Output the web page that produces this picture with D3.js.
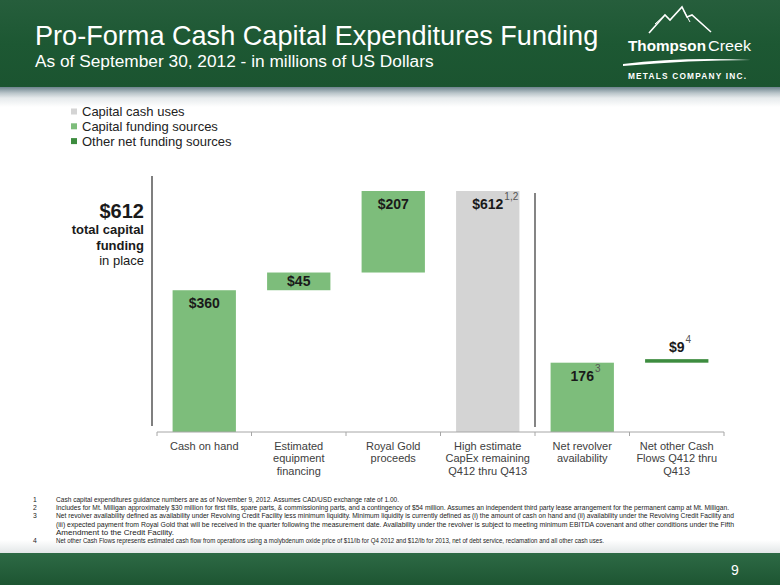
<!DOCTYPE html>
<html><head><meta charset="utf-8">
<script src="https://cdn.jsdelivr.net/npm/d3@7"></script>
<style>html,body{margin:0;padding:0;background:#fff;}svg{display:block;font-family:Arial,"Liberation Sans",sans-serif;}</style>
</head><body>
<script>
// ---- data ----
const categories = ["Cash on hand", "Estimated equipment financing", "Royal Gold proceeds", "High estimate CapEx remaining Q412 thru Q413", "Net revolver availability", "Net other Cash Flows Q412 thru Q413"];
const categoryLines = [["Cash on hand"], ["Estimated", "equipment", "financing"], ["Royal Gold", "proceeds"], ["High estimate", "CapEx remaining", "Q412 thru Q413"], ["Net revolver", "availability"], ["Net other Cash", "Flows Q412 thru", "Q413"]];
const barStarts = [0, 360, 405, 0, 0, 176];
const barValues = [360, 45, 207, 612, 176, 9];
const barTypes = ["funding", "funding", "funding", "use", "funding", "other"];
const valueLabels = ["$360", "$45", "$207", "$612", "176", "$9"];
const superscripts = ["", "", "", "1,2", "3", "4"];
const legendLabels = ["Capital cash uses", "Capital funding sources", "Other net funding sources"];
const legendTypes = ["use", "funding", "other"];
const footnoteNums = ["1", "2", "3", "", "", "4"];
const footnoteLines = [
  "Cash capital expenditures guidance numbers are as of  November  9, 2012.  Assumes CAD/USD exchange rate of 1.00.",
  "Includes for Mt. Milligan approximately $30 million for first fills, spare parts, & commissioning parts, and a contingency of $54 million.  Assumes an independent third party lease arrangement for the permanent camp at Mt. Milligan.",
  "Net revolver availability defined as availability under Revolving Credit Facility less minimum liquidity.  Minimum liquidity is currently defined as (i) the amount of cash on hand and (ii) availability under the Revolving Credit Facility and",
  "(iii) expected payment from Royal Gold that will be received in the quarter following the measurement date.  Availability under the revolver is subject to meeting minimum EBITDA covenant and other conditions under the Fifth",
  "Amendment to the Credit Facility.",
  "Net other Cash Flows represents estimated cash flow from operations using a molybdenum oxide price of $11/lb for Q4 2012 and $12/lb for 2013, net of debt service, reclamation and all other cash uses."
];
const footnoteWidths = [343, 673, 678, 678, 118, 548];
const title = "Pro-Forma Cash Capital Expenditures Funding";
const subtitle = "As of September 30, 2012 - in millions of US Dollars";
const totalLabel = "$612";
const totalLines = ["total capital", "funding", "in place"];

// ---- drawing ----
const W = 780, H = 585;
const colors = {use: "#d4d4d4", funding: "#7dbd7b", other: "#3d8c3f"};
const svg = d3.select("body").append("svg").attr("width", W).attr("height", H);
const defs = svg.append("defs");
const hg = defs.append("linearGradient").attr("id", "hg").attr("x1", 0).attr("y1", 0).attr("x2", 0).attr("y2", 1);
hg.append("stop").attr("offset", 0).attr("stop-color", "#265e3c");
hg.append("stop").attr("offset", 0.5).attr("stop-color", "#1d5833");
hg.append("stop").attr("offset", 1).attr("stop-color", "#1b5430");
const sg = defs.append("linearGradient").attr("id", "sg").attr("x1", 0).attr("y1", 0).attr("x2", 0).attr("y2", 1);
sg.append("stop").attr("offset", 0).attr("stop-color", "#6e848e");
sg.append("stop").attr("offset", 0.3).attr("stop-color", "#b9c4c9");
sg.append("stop").attr("offset", 0.55).attr("stop-color", "#e6eaec");
sg.append("stop").attr("offset", 1).attr("stop-color", "#ffffff");
const bg = defs.append("linearGradient").attr("id", "bg").attr("x1", 0).attr("y1", 0).attr("x2", 0).attr("y2", 1);
bg.append("stop").attr("offset", 0).attr("stop-color", "#ffffff");
bg.append("stop").attr("offset", 1).attr("stop-color", "#e3e7e8");
const fg = defs.append("linearGradient").attr("id", "fg").attr("x1", 0).attr("y1", 0).attr("x2", 0).attr("y2", 1);
fg.append("stop").attr("offset", 0).attr("stop-color", "#2d6a45");
fg.append("stop").attr("offset", 1).attr("stop-color", "#1d5532");

// header
svg.append("rect").attr("x", 0).attr("y", 0).attr("width", W).attr("height", 87).attr("fill", "url(#hg)");
svg.append("rect").attr("x", 0).attr("y", 87).attr("width", W).attr("height", 20).attr("fill", "url(#sg)");
svg.append("text").attr("x", 35).attr("y", 45).attr("fill", "#fff").attr("font-size", 27.1).text(title);
svg.append("text").attr("x", 35).attr("y", 67).attr("fill", "#fff").attr("font-size", 17.3).text(subtitle);

// logo
const logo = svg.append("g");
logo.append("path").attr("d", "M649,33 L665,15 L670,20 L682,7 L687,17 L692,15 L711,32")
  .attr("fill", "none").attr("stroke", "#fff").attr("stroke-width", 1.6).attr("stroke-linejoin", "miter");
logo.append("path").attr("d", "M655,24 L665,15 M684,11 L690,22")
  .attr("fill", "none").attr("stroke", "#fff").attr("stroke-width", 1);
logo.append("text").attr("x", 628).attr("y", 51).attr("fill", "#fff").attr("font-size", 15.5).attr("font-weight", "bold")
  .attr("textLength", 78).attr("lengthAdjust", "spacingAndGlyphs").text("Thompson");
logo.append("text").attr("x", 708).attr("y", 51).attr("fill", "#fff").attr("font-size", 15.5)
  .attr("textLength", 43).attr("lengthAdjust", "spacingAndGlyphs").text("Creek");
logo.append("path").attr("d", "M623,64 Q680,57 751,60 Q690,60 623,66 Z").attr("fill", "#fff");
logo.append("text").attr("x", 628).attr("y", 79).attr("fill", "#fff").attr("font-size", 8.3).attr("font-weight", "bold")
  .attr("textLength", 118).attr("lengthAdjust", "spacing").text("METALS COMPANY INC.");

// footer
svg.append("rect").attr("x", 0).attr("y", 540).attr("width", W).attr("height", 13).attr("fill", "url(#bg)");
svg.append("rect").attr("x", 0).attr("y", 553).attr("width", W).attr("height", 32).attr("fill", "url(#fg)");
svg.append("text").attr("x", 735).attr("y", 575).attr("text-anchor", "middle").attr("fill", "#fff").attr("font-size", 14).text("9");

// legend
const leg = svg.append("g").selectAll("g").data(legendLabels).join("g")
  .attr("transform", (d, i) => `translate(0,${111.5 + i * 14.8})`);
leg.append("rect").attr("x", 71).attr("y", -3).attr("width", 6).attr("height", 6).attr("fill", (d, i) => colors[legendTypes[i]]);
leg.append("text").attr("x", 82).attr("y", 4.5).attr("font-size", 13).attr("fill", "#222").text(d => d);

// scales
const x = d3.scaleBand().domain(categories).range([157, 724]).paddingInner(0.33).paddingOuter(0.165);
const y = d3.scaleLinear().domain([0, 612]).range([432, 191]);
const step = x.step();

// bars
const g = svg.append("g");
categories.forEach((c, i) => {
  const y0 = y(barStarts[i]), y1 = y(barStarts[i] + barValues[i]);
  g.append("rect").attr("x", x(c)).attr("width", x.bandwidth())
    .attr("y", y1).attr("height", y0 - y1).attr("fill", colors[barTypes[i]]);
});

// axis
const axisG = svg.append("g").attr("transform", "translate(0,432)");
axisG.append("line").attr("x1", 157).attr("x2", 724).attr("stroke", "#a6a6a6").attr("stroke-width", 1);
d3.range(categories.length + 1).forEach(i => {
  const xx = 157 + i * step;
  axisG.append("line").attr("x1", xx).attr("x2", xx).attr("y1", 0).attr("y2", 4).attr("stroke", "#a6a6a6");
});
categories.forEach((c, i) => {
  categoryLines[i].forEach((ln, j) => {
    axisG.append("text").attr("x", x(c) + x.bandwidth() / 2).attr("y", 18 + j * 12.3)
      .attr("text-anchor", "middle").attr("font-size", 11).attr("fill", "#404040").text(ln);
  });
});

// value labels
categories.forEach((c, i) => {
  const top = y(barStarts[i] + barValues[i]);
  const bottom = y(barStarts[i]);
  const cx = x(c) + x.bandwidth() / 2;
  const by = barTypes[i] === "other" ? top - 7 : Math.min(top + 18, (top + bottom) / 2 + 5);
  const t = g.append("text").attr("x", cx).attr("y", by).attr("text-anchor", "middle")
    .attr("font-size", 14).attr("font-weight", "bold").attr("fill", "#1a1a1a").text(valueLabels[i]);
  if (superscripts[i]) {
    const w = t.node().getComputedTextLength();
    g.append("text").attr("x", cx + w / 2 + 1).attr("y", by - 9).attr("font-size", 10).attr("fill", "#555").text(superscripts[i]);
  }
});

// separator lines
svg.append("line").attr("x1", 152).attr("x2", 152).attr("y1", 176).attr("y2", 426).attr("stroke", "#555").attr("stroke-width", 1.5);
const sepX = (x(categories[3]) + x.bandwidth() + x(categories[4])) / 2;
svg.append("line").attr("x1", sepX).attr("x2", sepX).attr("y1", 193).attr("y2", 427).attr("stroke", "#333").attr("stroke-width", 1.2);

// total annotation
svg.append("text").attr("x", 144).attr("y", 218).attr("text-anchor", "end").attr("font-size", 20).attr("font-weight", "bold").attr("fill", "#1a1a1a").text(totalLabel);
totalLines.forEach((ln, j) => {
  svg.append("text").attr("x", 144).attr("y", 234 + j * 15.5).attr("text-anchor", "end").attr("font-size", 13)
    .attr("font-weight", j < 2 ? "bold" : "normal").attr("fill", "#1a1a1a").text(ln);
});

// footnotes
const fn = svg.append("g").attr("font-family", "'Liberation Sans Narrow','Arial Narrow',Arial,sans-serif").attr("font-size", 6.8).attr("fill", "#222");
footnoteLines.forEach((ln, i) => {
  const yy = 502 + i * 8.2;
  if (footnoteNums[i]) fn.append("text").attr("x", 33).attr("y", yy).text(footnoteNums[i]);
  fn.append("text").attr("x", 56).attr("y", yy).attr("textLength", footnoteWidths[i]).attr("lengthAdjust", "spacingAndGlyphs").text(ln);
});
</script>
</body></html>
